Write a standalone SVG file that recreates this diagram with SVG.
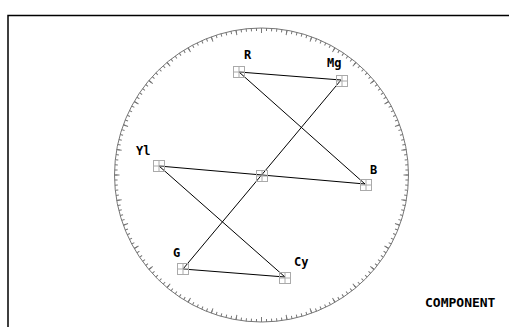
<svg xmlns="http://www.w3.org/2000/svg" width="509" height="327" viewBox="0 0 509 327">
<style>
.lbl{font-family:"DejaVu Sans Mono","Liberation Mono",monospace;font-weight:bold;font-size:12px;fill:#000}
.big{font-size:13px}
.box{fill:none;stroke:#aaa;stroke-width:1}
.con{fill:none;stroke:#000;stroke-width:1}
.grat{fill:none;stroke:#777}
</style>
<defs>
<g id="tgt"><rect class="box" x="-5.5" y="-5.5" width="11" height="11"/><path class="box" d="M0,-5.5V5.5M-5.5,0H5.5"/></g>
</defs>
<rect x="0" y="0" width="509" height="327" fill="#fff"/>
<rect x="8" y="15.5" width="510" height="320" fill="none" stroke="#000" stroke-width="1.5"/>
<g id="graticule">
<circle class="grat" cx="261.5" cy="175" r="147" stroke-width="1"/>
<circle class="grat" cx="261.5" cy="175" r="145.5" pathLength="360" stroke-width="3" stroke-dasharray="0.4 1.6" stroke-dashoffset="0.2"/>
<circle class="grat" cx="261.5" cy="175" r="144.5" pathLength="360" stroke-width="5" stroke-dasharray="0.4 9.6" stroke-dashoffset="0.2"/>
</g>
<g id="connectors">
<polygon class="con" points="239,72 341,80 183,269 285,277 159,166 365,184"/>
</g>
<g id="node-center"><use href="#tgt" x="262" y="176"/></g>
<g id="node-R"><use href="#tgt" x="239" y="72"/><text class="lbl" x="244" y="59">R</text></g>
<g id="node-Mg"><use href="#tgt" x="342" y="81"/><text class="lbl" x="327" y="67">Mg</text></g>
<g id="node-B"><use href="#tgt" x="366" y="185"/><text class="lbl" x="370" y="174">B</text></g>
<g id="node-Cy"><use href="#tgt" x="285" y="278"/><text class="lbl" x="294" y="266">Cy</text></g>
<g id="node-G"><use href="#tgt" x="183" y="269"/><text class="lbl" x="173" y="257">G</text></g>
<g id="node-Yl"><use href="#tgt" x="159" y="166"/><text class="lbl" x="136" y="155">Yl</text></g>
<text class="lbl big" x="425" y="307">COMPONENT</text>
</svg>
